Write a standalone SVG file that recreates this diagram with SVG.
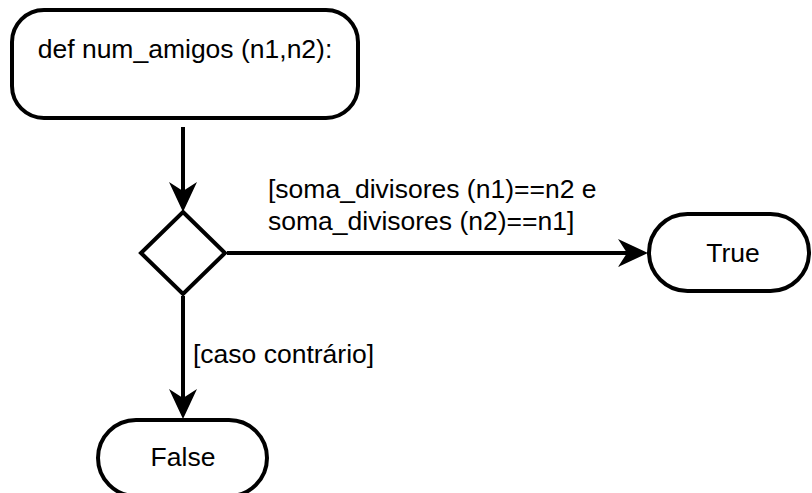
<svg xmlns="http://www.w3.org/2000/svg" width="812" height="493" viewBox="0 0 812 493">
  <style>
    .shape { fill: #ffffff; stroke: #000000; stroke-width: 4; }
    .edge { fill: none; stroke: #000000; stroke-width: 4; }
    .label { font-family: "Liberation Sans", Arial, sans-serif; font-size: 26.5px; fill: #000000; }
    .mid { text-anchor: middle; }
  </style>
  <defs>
    <marker id="arrow" markerUnits="userSpaceOnUse" markerWidth="30" markerHeight="28" viewBox="0 0 30 28" refX="9" refY="14" orient="auto">
      <path d="M0,0 L30,14 L0,28 L9,14 Z" fill="#000000"/>
    </marker>
  </defs>

  <!-- start: function definition -->
  <g id="node-def">
    <rect class="shape" x="12" y="10" width="346" height="108" rx="32" ry="32"/>
    <text class="label mid" x="185" y="58">def num_amigos (n1,n2):</text>
  </g>

  <!-- decision -->
  <g id="node-decision">
    <polygon class="shape" points="183,212 225,253 183,294 141,253"/>
  </g>

  <!-- terminal: True -->
  <g id="node-true">
    <rect class="shape" x="649" y="214" width="160" height="77" rx="38.5" ry="38.5"/>
    <text class="label mid" x="733" y="262">True</text>
  </g>

  <!-- terminal: False -->
  <g id="node-false">
    <rect class="shape" x="98" y="420" width="169" height="76" rx="38" ry="38"/>
    <text class="label mid" x="183" y="466">False</text>
  </g>

  <!-- connectors -->
  <g id="connectors">
    <path class="edge" d="M183,127 L183,191" marker-end="url(#arrow)"/>
    <path class="edge" d="M227,253 L627,253" marker-end="url(#arrow)"/>
    <path class="edge" d="M183,296 L183,398" marker-end="url(#arrow)"/>
    <text class="label" x="268" y="198">[soma_divisores (n1)==n2 e</text>
    <text class="label" x="268" y="230">soma_divisores (n2)==n1]</text>
    <text class="label" x="193" y="363">[caso contrário]</text>
  </g>
</svg>
